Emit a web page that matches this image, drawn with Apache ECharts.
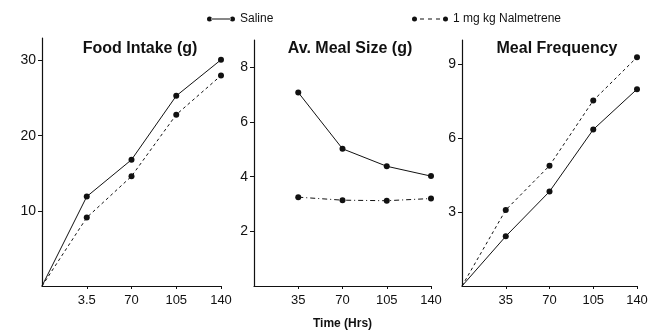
<!DOCTYPE html>
<html>
<head>
<meta charset="utf-8">
<script src="https://cdn.jsdelivr.net/npm/echarts@6/dist/echarts.min.js"></script>
<style>
  html, body { margin: 0; padding: 0; background: #fff; }
  #cv { width: 664px; height: 335px; }
</style>
</head>
<body>
<div id="cv"></div>
<script>
var hours = [0, 35, 70, 105, 140];

var foodSaline = [0, 11.9, 16.8, 25.3, 30.1];
var foodNalm = [0, 9.1, 14.6, 22.8, 28.0];
var sizeSaline = [null, 7.08, 5.02, 4.38, 4.02];
var sizeNalm = [null, 3.25, 3.14, 3.12, 3.2];
var freqSaline = [0, 2.02, 3.84, 6.36, 8.0];
var freqNalm = [0, 3.09, 4.89, 7.54, 9.3];

var xTicks = [35, 70, 105, 140];
var xLabels1 = ['3.5', '70', '105', '140'];
var xLabels = ['35', '70', '105', '140'];
var yTicks1 = [10, 20, 30];
var yTicks2 = [2, 4, 6, 8];
var yTicks3 = [3, 6, 9];

var nameSaline = 'Saline';
var nameNalm = '1 mg kg Nalmetrene';

var ink = '#111';
var font = 'Liberation Sans';

var myChart = echarts.init(document.getElementById('cv'));

function pts(ys) {
  var out = [];
  for (var i = 0; i < hours.length; i++) {
    if (ys[i] == null) continue;
    out.push({ value: [hours[i], ys[i]], symbol: hours[i] === 0 ? 'none' : 'circle' });
  }
  return out;
}

function xAxisFor(idx, labels, extra) {
  var ax = {
    type: 'value', gridIndex: idx, min: 0, max: 140, interval: 35,
    axisLine: { lineStyle: { color: ink, width: 1.2 } },
    axisTick: { customValues: xTicks, length: 3, lineStyle: { color: ink } },
    axisLabel: {
      customValues: xTicks, color: ink, fontFamily: font, fontSize: 13, margin: 8,
      formatter: function (v) { return labels[xTicks.indexOf(v)]; }
    },
    splitLine: { show: false }
  };
  if (extra) { for (var k in extra) ax[k] = extra[k]; }
  return ax;
}

function yAxisFor(idx, max, ticks) {
  return {
    type: 'value', gridIndex: idx, min: 0, max: max,
    axisLine: { show: true, lineStyle: { color: ink, width: 1.2 } },
    axisTick: { show: true, customValues: ticks, length: 4, lineStyle: { color: ink } },
    axisLabel: { customValues: ticks, color: ink, fontFamily: font, fontSize: 14, margin: 6 },
    splitLine: { show: false }
  };
}

function lineSeries(name, idx, ys, dash) {
  return {
    name: name, type: 'line', xAxisIndex: idx, yAxisIndex: idx,
    data: pts(ys), symbol: 'circle', symbolSize: 6,
    itemStyle: { color: ink },
    lineStyle: { color: ink, width: 1, type: dash || 'solid' },
    animation: false
  };
}

var iconSolid = 'path://M0,2.5a2.5,2.5 0 1,0 5,0a2.5,2.5 0 1,0 -5,0Z M23,2.5a2.5,2.5 0 1,0 5,0a2.5,2.5 0 1,0 -5,0Z M4,2h20v1h-20Z';
var iconDash = 'path://M0,2.5a2.5,2.5 0 1,0 5,0a2.5,2.5 0 1,0 -5,0Z M31,2.5a2.5,2.5 0 1,0 5,0a2.5,2.5 0 1,0 -5,0Z M8,2h4v1h-4Z M16,2h4v1h-4Z M24,2h4v1h-4Z';

var titleStyle = { color: ink, fontFamily: font, fontSize: 16, fontWeight: 'bold' };

var option = {
  backgroundColor: '#fff',
  animation: false,
  title: [
    { text: 'Food Intake (g)', left: 135, top: 36, textAlign: 'center', textStyle: titleStyle },
    { text: 'Av. Meal Size (g)', left: 345, top: 36, textAlign: 'center', textStyle: titleStyle },
    { text: 'Meal Frequency', left: 552, top: 36, textAlign: 'center', textStyle: titleStyle }
  ],
  legend: [
    {
      data: [{ name: nameSaline, icon: iconSolid }], left: 202, top: 8,
      itemWidth: 28, itemHeight: 5, itemGap: 8, selectedMode: false,
      textStyle: { color: ink, fontFamily: font, fontSize: 12 }
    },
    {
      data: [{ name: nameNalm, icon: iconDash }], left: 407, top: 8,
      itemWidth: 36, itemHeight: 5, selectedMode: false,
      textStyle: { color: ink, fontFamily: font, fontSize: 12 }
    }
  ],
  grid: [
    { left: 42, top: 38, width: 179, height: 248 },
    { left: 254, top: 40, width: 177, height: 246 },
    { left: 462, top: 40, width: 175, height: 246 }
  ],
  xAxis: [
    xAxisFor(0, xLabels1),
    xAxisFor(1, xLabels, {
      name: 'Time (Hrs)', nameLocation: 'middle', nameGap: 32,
      nameTextStyle: { color: ink, fontFamily: font, fontSize: 12, fontWeight: 'bold' }
    }),
    xAxisFor(2, xLabels)
  ],
  yAxis: [
    yAxisFor(0, 33, yTicks1),
    yAxisFor(1, 9, yTicks2),
    yAxisFor(2, 10, yTicks3)
  ],
  series: [
    lineSeries(nameSaline, 0, foodSaline),
    lineSeries(nameNalm, 0, foodNalm, [3, 3]),
    lineSeries(nameSaline, 1, sizeSaline),
    lineSeries(nameNalm, 1, sizeNalm, [5, 3, 1, 3]),
    lineSeries(nameSaline, 2, freqSaline),
    lineSeries(nameNalm, 2, freqNalm, [3, 3])
  ]
};

myChart.setOption(option);
</script>
</body>
</html>
